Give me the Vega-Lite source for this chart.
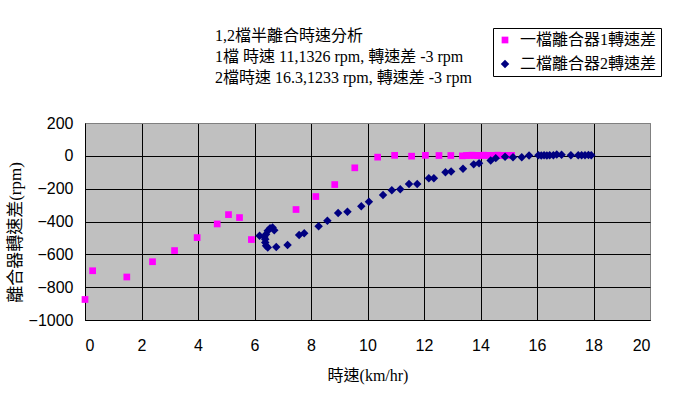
{
  "$schema": "https://vega.github.io/schema/vega-lite/v6.json",
  "autosize": "none",
  "width": 565,
  "height": 197,
  "padding": {"left": 85, "top": 123, "right": 36, "bottom": 89},
  "background": "white",
  "config": {
    "font": "Liberation Serif, Noto Sans CJK TC",
    "view": {"fill": "#C0C0C0", "stroke": "#808080", "strokeWidth": 1},
    "axis": {
      "labelFont": "Liberation Sans, Noto Sans CJK TC",
      "titleFont": "Liberation Serif, Noto Sans CJK TC",
      "labelFontSize": 16,
      "labelColor": "black",
      "titleColor": "black",
      "titleFontWeight": "normal",
      "ticks": false,
      "domainColor": "black",
      "gridOpacity": 1,
      "gridWidth": 1
    }
  },
  "title": {
    "text": ["1,2檔半離合時速分析", "1檔 時速 11,1326 rpm, 轉速差 -3 rpm", "2檔時速 16.3,1233 rpm, 轉速差 -3 rpm"],
    "anchor": "start",
    "frame": "group",
    "dx": 130,
    "offset": 0,
    "dy": 58,
    "fontSize": 16,
    "fontWeight": "normal",
    "lineHeight": 21,
    "color": "black",
    "font": "Liberation Serif, Noto Sans CJK TC"
  },
  "data": {
    "values": [
      {"speed": 0.0, "diff": -875, "series": "一檔離合器1轉速差"},
      {"speed": 0.27, "diff": -700, "series": "一檔離合器1轉速差"},
      {"speed": 1.48, "diff": -738, "series": "一檔離合器1轉速差"},
      {"speed": 2.39, "diff": -645, "series": "一檔離合器1轉速差"},
      {"speed": 3.17, "diff": -577, "series": "一檔離合器1轉速差"},
      {"speed": 3.97, "diff": -498, "series": "一檔離合器1轉速差"},
      {"speed": 4.68, "diff": -415, "series": "一檔離合器1轉速差"},
      {"speed": 5.08, "diff": -358, "series": "一檔離合器1轉速差"},
      {"speed": 5.47, "diff": -376, "series": "一檔離合器1轉速差"},
      {"speed": 5.89, "diff": -510, "series": "一檔離合器1轉速差"},
      {"speed": 7.47, "diff": -327, "series": "一檔離合器1轉速差"},
      {"speed": 8.17, "diff": -248, "series": "一檔離合器1轉速差"},
      {"speed": 8.84, "diff": -175, "series": "一檔離合器1轉速差"},
      {"speed": 9.55, "diff": -73, "series": "一檔離合器1轉速差"},
      {"speed": 10.36, "diff": -8, "series": "一檔離合器1轉速差"},
      {"speed": 10.96, "diff": 3, "series": "一檔離合器1轉速差"},
      {"speed": 11.56, "diff": -2, "series": "一檔離合器1轉速差"},
      {"speed": 12.05, "diff": 3, "series": "一檔離合器1轉速差"},
      {"speed": 12.53, "diff": 2, "series": "一檔離合器1轉速差"},
      {"speed": 12.95, "diff": 2, "series": "一檔離合器1轉速差"},
      {"speed": 13.36, "diff": 0, "series": "一檔離合器1轉速差"},
      {"speed": 13.5, "diff": 2, "series": "一檔離合器1轉速差"},
      {"speed": 13.6, "diff": 3, "series": "一檔離合器1轉速差"},
      {"speed": 13.7, "diff": 4, "series": "一檔離合器1轉速差"},
      {"speed": 13.8, "diff": 3, "series": "一檔離合器1轉速差"},
      {"speed": 13.9, "diff": 2, "series": "一檔離合器1轉速差"},
      {"speed": 14.0, "diff": 3, "series": "一檔離合器1轉速差"},
      {"speed": 14.1, "diff": 4, "series": "一檔離合器1轉速差"},
      {"speed": 14.2, "diff": 3, "series": "一檔離合器1轉速差"},
      {"speed": 14.3, "diff": 3, "series": "一檔離合器1轉速差"},
      {"speed": 14.4, "diff": 2, "series": "一檔離合器1轉速差"},
      {"speed": 14.5, "diff": 3, "series": "一檔離合器1轉速差"},
      {"speed": 14.6, "diff": 4, "series": "一檔離合器1轉速差"},
      {"speed": 14.7, "diff": 3, "series": "一檔離合器1轉速差"},
      {"speed": 14.8, "diff": 3, "series": "一檔離合器1轉速差"},
      {"speed": 14.9, "diff": 2, "series": "一檔離合器1轉速差"},
      {"speed": 15.0, "diff": 3, "series": "一檔離合器1轉速差"},
      {"speed": 15.1, "diff": 3, "series": "一檔離合器1轉速差"},
      {"speed": 6.18, "diff": -487, "series": "二檔離合器2轉速差"},
      {"speed": 6.35, "diff": -494, "series": "二檔離合器2轉速差"},
      {"speed": 6.41, "diff": -477, "series": "二檔離合器2轉速差"},
      {"speed": 6.47, "diff": -457, "series": "二檔離合器2轉速差"},
      {"speed": 6.55, "diff": -441, "series": "二檔離合器2轉速差"},
      {"speed": 6.64, "diff": -437, "series": "二檔離合器2轉速差"},
      {"speed": 6.7, "diff": -453, "series": "二檔離合器2轉速差"},
      {"speed": 6.38, "diff": -508, "series": "二檔離合器2轉速差"},
      {"speed": 6.38, "diff": -528, "series": "二檔離合器2轉速差"},
      {"speed": 6.41, "diff": -548, "series": "二檔離合器2轉速差"},
      {"speed": 6.47, "diff": -559, "series": "二檔離合器2轉速差"},
      {"speed": 6.77, "diff": -555, "series": "二檔離合器2轉速差"},
      {"speed": 7.17, "diff": -543, "series": "二檔離合器2轉速差"},
      {"speed": 7.58, "diff": -482, "series": "二檔離合器2轉速差"},
      {"speed": 7.76, "diff": -471, "series": "二檔離合器2轉速差"},
      {"speed": 8.27, "diff": -429, "series": "二檔離合器2轉速差"},
      {"speed": 8.58, "diff": -396, "series": "二檔離合器2轉速差"},
      {"speed": 8.96, "diff": -348, "series": "二檔離合器2轉速差"},
      {"speed": 9.29, "diff": -341, "series": "二檔離合器2轉速差"},
      {"speed": 9.78, "diff": -307, "series": "二檔離合器2轉速差"},
      {"speed": 10.05, "diff": -280, "series": "二檔離合器2轉速差"},
      {"speed": 10.55, "diff": -238, "series": "二檔離合器2轉速差"},
      {"speed": 10.86, "diff": -209, "series": "二檔離合器2轉速差"},
      {"speed": 11.16, "diff": -203, "series": "二檔離合器2轉速差"},
      {"speed": 11.47, "diff": -171, "series": "二檔離合器2轉速差"},
      {"speed": 11.76, "diff": -171, "series": "二檔離合器2轉速差"},
      {"speed": 12.17, "diff": -136, "series": "二檔離合器2轉速差"},
      {"speed": 12.35, "diff": -136, "series": "二檔離合器2轉速差"},
      {"speed": 12.76, "diff": -100, "series": "二檔離合器2轉速差"},
      {"speed": 12.96, "diff": -96, "series": "二檔離合器2轉速差"},
      {"speed": 13.38, "diff": -78, "series": "二檔離合器2轉速差"},
      {"speed": 13.76, "diff": -52, "series": "二檔離合器2轉速差"},
      {"speed": 13.95, "diff": -45, "series": "二檔離合器2轉速差"},
      {"speed": 14.36, "diff": -28, "series": "二檔離合器2轉速差"},
      {"speed": 14.54, "diff": -14, "series": "二檔離合器2轉速差"},
      {"speed": 14.87, "diff": -6, "series": "二檔離合器2轉速差"},
      {"speed": 15.15, "diff": -8, "series": "二檔離合器2轉速差"},
      {"speed": 15.46, "diff": -8, "series": "二檔離合器2轉速差"},
      {"speed": 15.72, "diff": 2, "series": "二檔離合器2轉速差"},
      {"speed": 16.05, "diff": 3, "series": "二檔離合器2轉速差"},
      {"speed": 16.15, "diff": 2, "series": "二檔離合器2轉速差"},
      {"speed": 16.25, "diff": 3, "series": "二檔離合器2轉速差"},
      {"speed": 16.35, "diff": 2, "series": "二檔離合器2轉速差"},
      {"speed": 16.45, "diff": 3, "series": "二檔離合器2轉速差"},
      {"speed": 16.58, "diff": 3, "series": "二檔離合器2轉速差"},
      {"speed": 16.7, "diff": 8, "series": "二檔離合器2轉速差"},
      {"speed": 16.87, "diff": 6, "series": "二檔離合器2轉速差"},
      {"speed": 17.2, "diff": 4, "series": "二檔離合器2轉速差"},
      {"speed": 17.46, "diff": 4, "series": "二檔離合器2轉速差"},
      {"speed": 17.58, "diff": 4, "series": "二檔離合器2轉速差"},
      {"speed": 17.7, "diff": 4, "series": "二檔離合器2轉速差"},
      {"speed": 17.82, "diff": 5, "series": "二檔離合器2轉速差"},
      {"speed": 17.92, "diff": 4, "series": "二檔離合器2轉速差"}
    ]
  },
  "mark": {"type": "point", "filled": true, "opacity": 1, "strokeWidth": 0},
  "encoding": {
    "x": {
      "field": "speed",
      "type": "quantitative",
      "scale": {"domain": [0, 20], "nice": false, "zero": false},
      "axis": {
        "title": "時速(km/hr)",
        "values": [0, 2, 4, 6, 8, 10, 12, 14, 16, 18, 20],
        "format": "d",
        "grid": true,
        "gridColor": {"condition": {"test": "datum.value == 20", "value": "#808080"}, "value": "black"},
        "labelPadding": 17,
        "titlePadding": 14,
        "titleFontSize": 16
      }
    },
    "y": {
      "field": "diff",
      "type": "quantitative",
      "scale": {"domain": [-1000, 200], "nice": false, "zero": false},
      "axis": {
        "title": "離合器轉速差(rpm)",
        "values": [-1000, -800, -600, -400, -200, 0, 200],
        "format": "d",
        "grid": true,
        "gridColor": {"condition": {"test": "datum.value == 200", "value": "#808080"}, "value": "black"},
        "labelPadding": 12,
        "titlePadding": 4,
        "titleFontSize": 17,
        "titleY": 109
      }
    },
    "color": {
      "field": "series",
      "type": "nominal",
      "scale": {"domain": ["一檔離合器1轉速差", "二檔離合器2轉速差"], "range": ["#FF00FF", "#000080"]},
      "legend": {
        "title": null,
        "orient": "none",
        "legendX": 408,
        "legendY": -95,
        "fillColor": "white",
        "strokeColor": "black",
        "padding": 4,
        "rowPadding": 8,
        "labelFontSize": 16,
        "labelFont": "Liberation Serif, Noto Sans CJK TC",
        "labelColor": "black",
        "labelOffset": 7,
        "symbolSize": 36,
        "symbolStrokeWidth": 0
      }
    },
    "shape": {
      "field": "series",
      "type": "nominal",
      "scale": {"domain": ["一檔離合器1轉速差", "二檔離合器2轉速差"], "range": ["square", "diamond"]},
      "legend": null
    },
    "size": {
      "field": "series",
      "type": "nominal",
      "scale": {"domain": ["一檔離合器1轉速差", "二檔離合器2轉速差"], "range": [45, 72]},
      "legend": null
    }
  }
}
